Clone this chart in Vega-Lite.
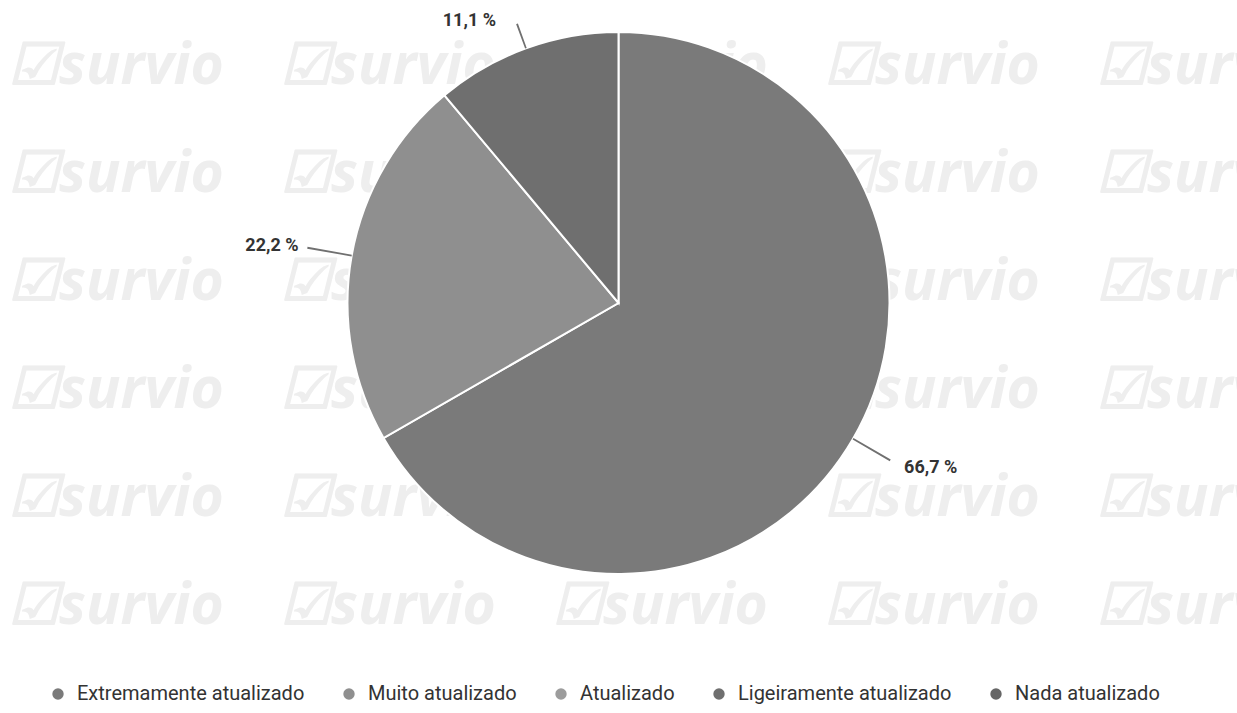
{
  "$schema": "https://vega.github.io/schema/vega-lite/v6.json",
  "width": 1237,
  "height": 606,
  "padding": 0,
  "background": "white",
  "config": {"view": {"stroke": null}},
  "datasets": {
    "resp": [
      {"categoria": "Extremamente atualizado", "percentual": 66.7, "ordem": 1},
      {"categoria": "Muito atualizado", "percentual": 22.2, "ordem": 2},
      {"categoria": "Atualizado", "percentual": 0, "ordem": 3},
      {"categoria": "Ligeiramente atualizado", "percentual": 11.1, "ordem": 4},
      {"categoria": "Nada atualizado", "percentual": 0, "ordem": 5}
    ],
    "marca": [
      {"linha": 0, "coluna": 0}, {"linha": 0, "coluna": 1}, {"linha": 0, "coluna": 2}, {"linha": 0, "coluna": 3}, {"linha": 0, "coluna": 4},
      {"linha": 1, "coluna": 0}, {"linha": 1, "coluna": 1}, {"linha": 1, "coluna": 2}, {"linha": 1, "coluna": 3}, {"linha": 1, "coluna": 4},
      {"linha": 2, "coluna": 0}, {"linha": 2, "coluna": 1}, {"linha": 2, "coluna": 2}, {"linha": 2, "coluna": 3}, {"linha": 2, "coluna": 4},
      {"linha": 3, "coluna": 0}, {"linha": 3, "coluna": 1}, {"linha": 3, "coluna": 2}, {"linha": 3, "coluna": 3}, {"linha": 3, "coluna": 4},
      {"linha": 4, "coluna": 0}, {"linha": 4, "coluna": 1}, {"linha": 4, "coluna": 2}, {"linha": 4, "coluna": 3}, {"linha": 4, "coluna": 4},
      {"linha": 5, "coluna": 0}, {"linha": 5, "coluna": 1}, {"linha": 5, "coluna": 2}, {"linha": 5, "coluna": 3}, {"linha": 5, "coluna": 4}
    ]
  },
  "layer": [
    {
      "data": {"name": "marca"},
      "mark": {"type": "text", "text": "☑survio", "align": "left", "baseline": "middle", "font": "Open Sans", "fontSize": 57, "fontWeight": "bold", "fontStyle": "italic", "color": "#eeeeee"},
      "encoding": {
        "x": {"field": "coluna", "type": "quantitative", "axis": null, "scale": {"domain": [-0.0294, 4.518], "nice": false, "zero": false}},
        "y": {"field": "linha", "type": "quantitative", "axis": null, "scale": {"domain": [-0.6204, 4.9907], "nice": false, "zero": false, "reverse": true}}
      }
    },
    {
      "data": {"name": "resp"},
      "transform": [{"filter": "datum.percentual > 0"}],
      "mark": {"type": "arc", "outerRadius": 271, "stroke": "white", "strokeWidth": 2},
      "encoding": {
        "theta": {"field": "percentual", "type": "quantitative", "stack": true},
        "order": {"field": "ordem", "type": "quantitative"},
        "color": {
          "field": "categoria",
          "type": "nominal",
          "scale": {
            "domain": ["Extremamente atualizado", "Muito atualizado", "Atualizado", "Ligeiramente atualizado", "Nada atualizado"],
            "range": ["#7a7a7a", "#8f8f8f", "#9c9c9c", "#6f6f6f", "#666666"]
          },
          "legend": {
            "orient": "none",
            "legendX": 48,
            "legendY": 684,
            "direction": "horizontal",
            "title": null,
            "symbolType": "circle",
            "symbolSize": 130,
            "symbolStrokeWidth": 0,
            "labelFont": "Roboto",
            "labelFontSize": 20,
            "labelColor": "#333333",
            "labelLimit": 0,
            "columnPadding": 34,
            "labelOffset": 9
          }
        }
      }
    },
    {
      "data": {"name": "resp"},
      "transform": [
        {"filter": "datum.percentual > 0"},
        {"stack": "percentual", "groupby": [], "sort": [{"field": "ordem", "order": "ascending"}], "as": ["p0", "p1"]},
        {"calculate": "(datum.p0 + datum.p1) / 2", "as": "meio"},
        {"calculate": "datum.meio - 0.05", "as": "meioA"},
        {"calculate": "datum.meio + 0.05", "as": "meioB"},
        {"calculate": "replace(format(datum.percentual, '.1f'), '.', ',') + ' %'", "as": "rotulo"}
      ],
      "layer": [
        {
          "transform": [{"filter": "datum.meio < 50"}],
          "mark": {"type": "arc", "color": "#707070"},
          "encoding": {
            "theta": {"field": "meioA", "type": "quantitative", "stack": null, "scale": {"domain": [0, 100], "range": [0, 6.2832]}},
            "theta2": {"field": "meioB"},
            "radius": {"value": 314},
            "radius2": {"value": 271}
          }
        },
        {
          "transform": [{"filter": "datum.meio >= 50 && datum.meio < 87.5"}],
          "mark": {"type": "arc", "color": "#707070"},
          "encoding": {
            "theta": {"field": "meioA", "type": "quantitative", "stack": null, "scale": {"domain": [0, 100], "range": [0, 6.2832]}},
            "theta2": {"field": "meioB"},
            "radius": {"value": 316},
            "radius2": {"value": 271}
          }
        },
        {
          "transform": [{"filter": "datum.meio >= 87.5"}],
          "mark": {"type": "arc", "color": "#707070"},
          "encoding": {
            "theta": {"field": "meioA", "type": "quantitative", "stack": null, "scale": {"domain": [0, 100], "range": [0, 6.2832]}},
            "theta2": {"field": "meioB"},
            "radius": {"value": 297},
            "radius2": {"value": 271}
          }
        },
        {
          "transform": [{"filter": "datum.meio < 50"}],
          "mark": {"type": "text", "align": "left", "baseline": "middle", "font": "Roboto", "fontSize": 18, "fontWeight": "bold", "color": "#333333"},
          "encoding": {
            "theta": {"field": "meio", "type": "quantitative", "stack": null, "scale": {"domain": [0, 100], "range": [0, 6.2832]}},
            "radius": {"value": 330},
            "text": {"field": "rotulo", "type": "nominal"}
          }
        },
        {
          "transform": [{"filter": "datum.meio >= 50 && datum.meio < 87.5"}],
          "mark": {"type": "text", "align": "right", "baseline": "middle", "font": "Roboto", "fontSize": 18, "fontWeight": "bold", "color": "#333333"},
          "encoding": {
            "theta": {"field": "meio", "type": "quantitative", "stack": null, "scale": {"domain": [0, 100], "range": [0, 6.2832]}},
            "radius": {"value": 325},
            "text": {"field": "rotulo", "type": "nominal"}
          }
        },
        {
          "transform": [{"filter": "datum.meio >= 87.5"}],
          "mark": {"type": "text", "align": "right", "baseline": "middle", "dx": -20, "font": "Roboto", "fontSize": 18, "fontWeight": "bold", "color": "#333333"},
          "encoding": {
            "theta": {"field": "meio", "type": "quantitative", "stack": null, "scale": {"domain": [0, 100], "range": [0, 6.2832]}},
            "radius": {"value": 300},
            "text": {"field": "rotulo", "type": "nominal"}
          }
        }
      ]
    }
  ],
  "resolve": {"scale": {"theta": "independent"}}
}
